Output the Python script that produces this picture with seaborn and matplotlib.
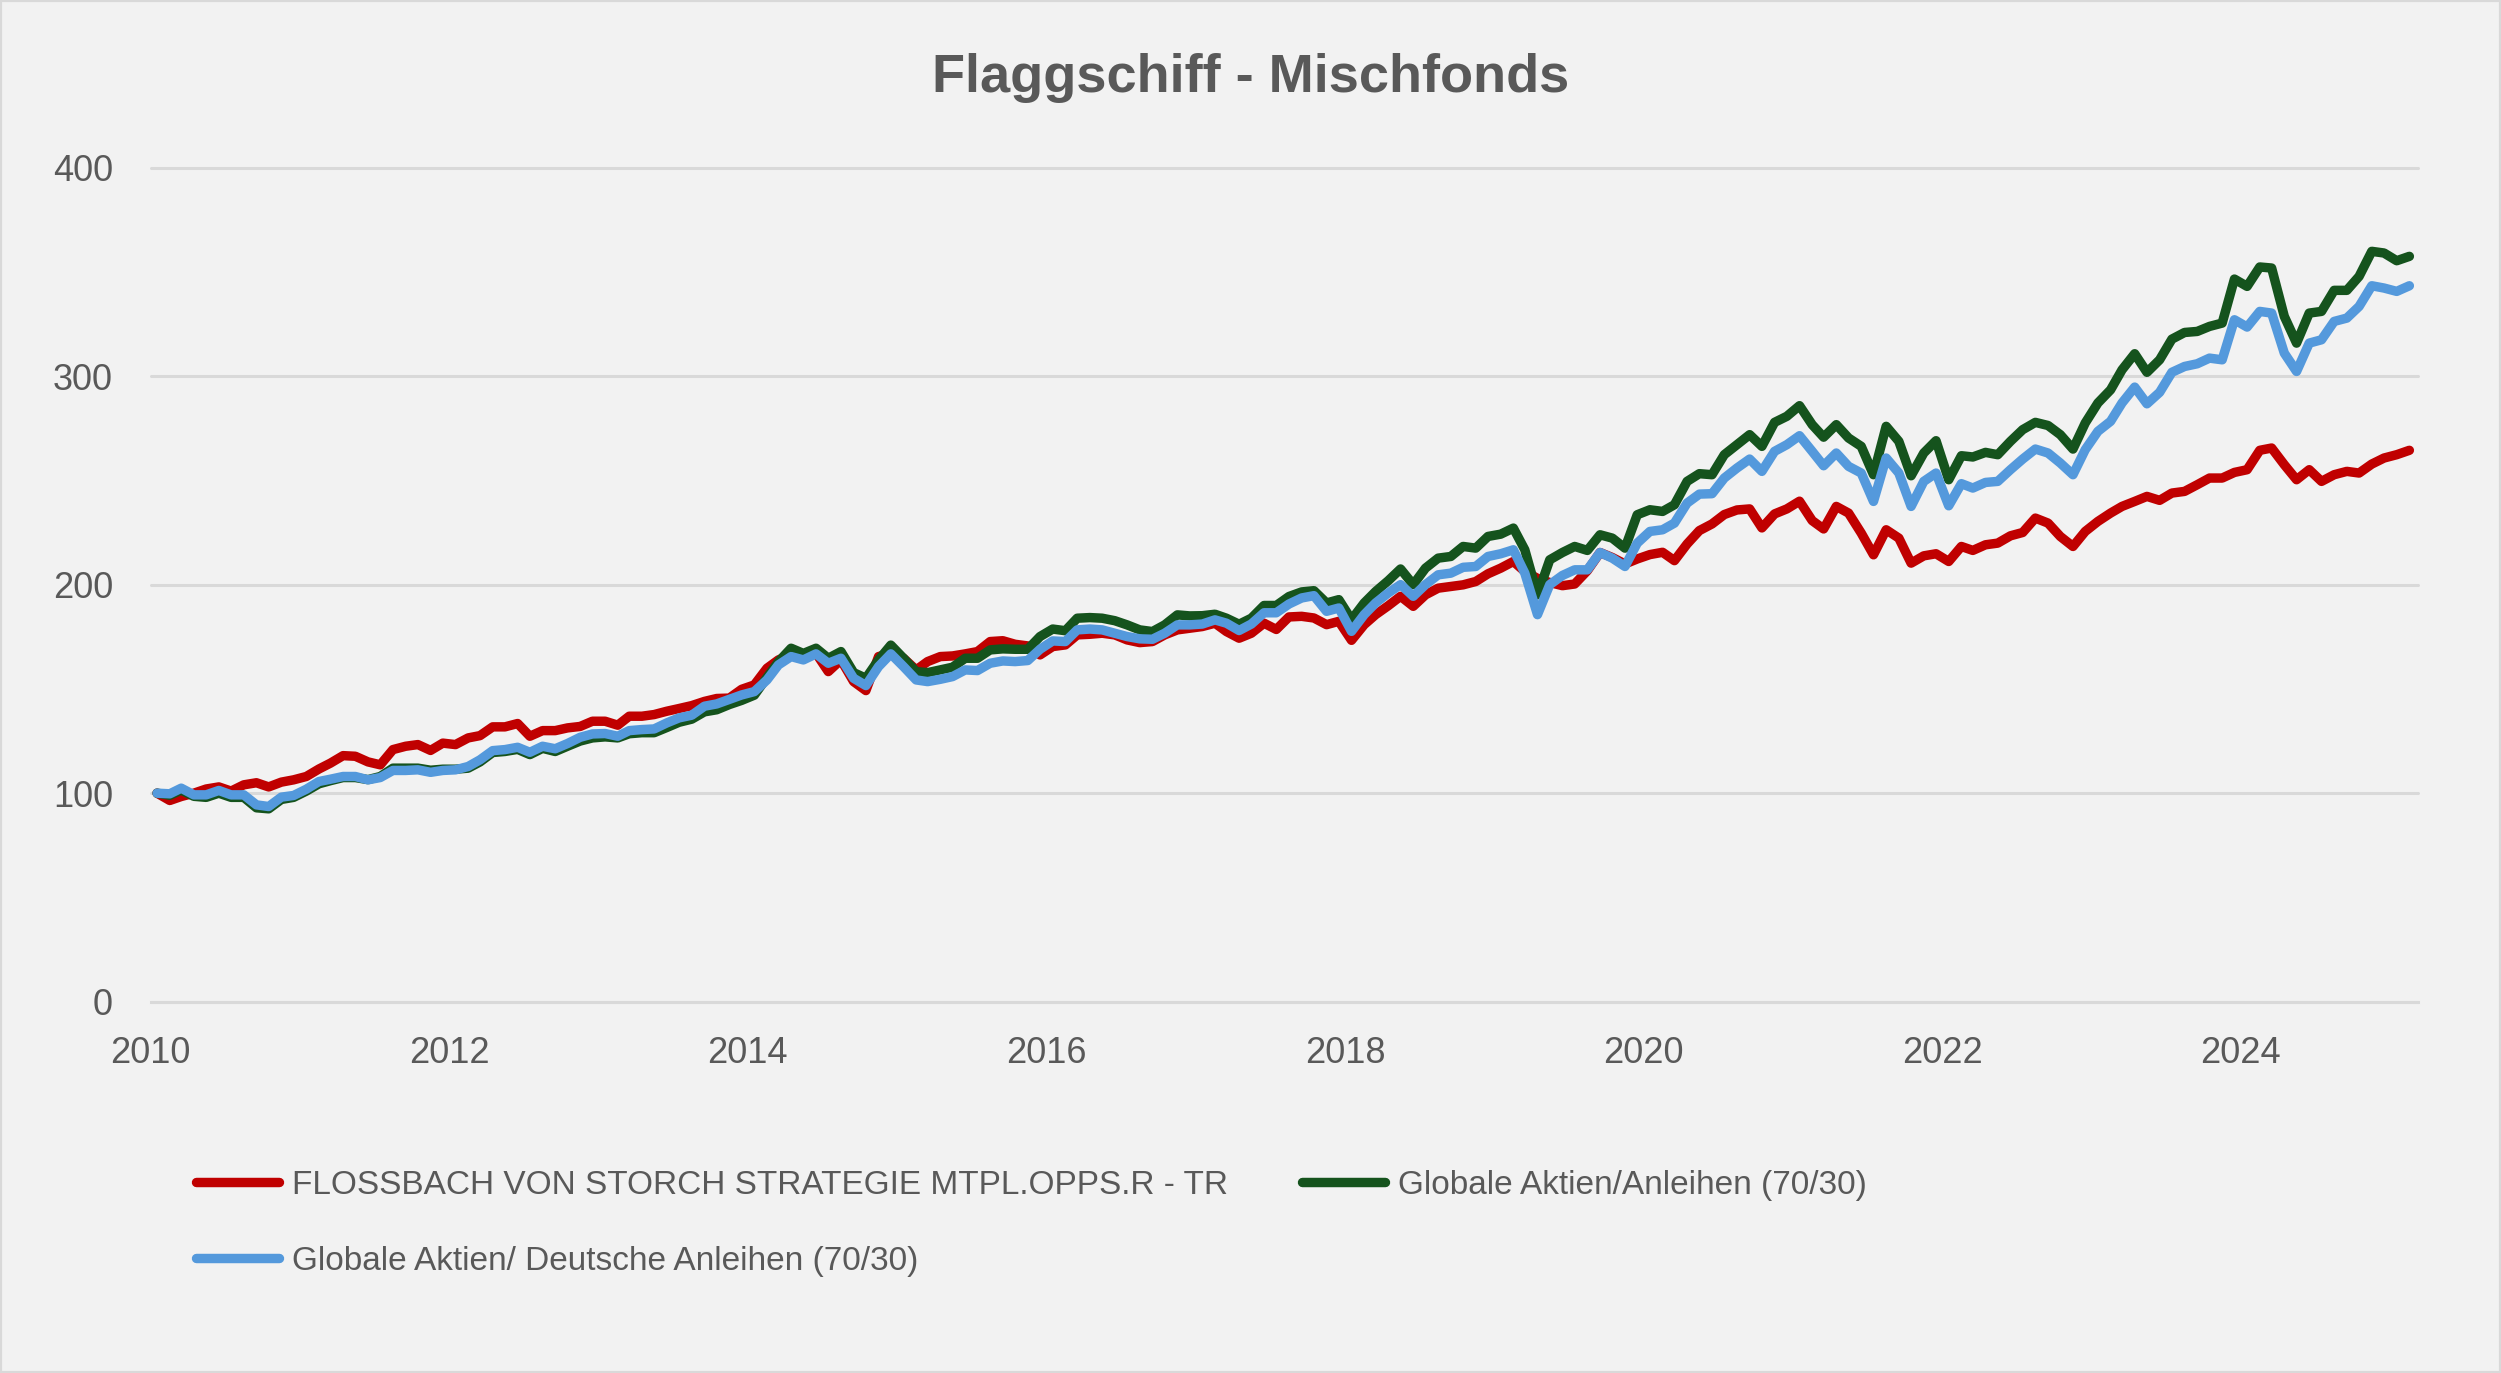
import numpy as np
import pandas as pd
import matplotlib
matplotlib.use("Agg")
import matplotlib.pyplot as plt
import matplotlib.dates as mdates
import seaborn as sns
from matplotlib.lines import Line2D
from matplotlib.patches import Rectangle

sns.set_style("white")
plt.rcParams["font.family"] = ["Liberation Sans", "DejaVu Sans"]

titel = "Flaggschiff - Mischfonds"
serien = [
    "FLOSSBACH VON STORCH STRATEGIE MTPL.OPPS.R - TR",
    "Globale Aktien/Anleihen (70/30)",
    "Globale Aktien/ Deutsche Anleihen (70/30)",
]

fvs = [
    100, 96.5, 98.4, 100, 102, 103, 101, 104, 105, 103, 105.3, 106.4,
    108, 111.6, 114.4, 118, 117.7, 115, 113.6, 120.9, 122.5, 123.3, 120.5, 124,
    123.3, 126.5, 127.6, 131.8, 131.8, 133.4, 127.3, 130, 130, 131.3, 132, 134.5,
    134.5, 132.6, 136.9, 136.9, 137.7, 139.3, 140.6, 142, 144, 145.4, 145.6, 149.8,
    151.9, 159.9, 163.9, 166.3, 164.7, 167.1, 158.3, 163.9, 153.5, 149.2, 165.5, 167.1,
    164.7, 159.1, 163.1, 165.5, 165.8, 166.8, 167.9, 172.7, 173.1, 171.4, 170.6, 166.3,
    170.3, 171.1, 175.9, 176.2, 176.7, 175.9, 173.5, 172.2, 172.7, 175.9, 178.3, 179.1,
    179.9, 181.5, 177.5, 174.3, 176.7, 181.5, 178.5, 184.5, 184.8, 184, 180.8, 182.4,
    173.3, 180.8, 185.6, 189.9, 194.4, 189.6, 195.1, 198.3, 199.1, 199.9, 201.5, 205.2,
    207.9, 211.1, 206.3, 203, 201, 199.5, 200.3, 206.7, 215.4, 213, 209.9, 212.3,
    214.4, 215.5, 211.5, 219.5, 225.9, 229.1, 233.6, 235.8, 236.3, 227.2, 233.9, 236.3,
    240, 230.7, 226.7, 237.5, 234.3, 224.7, 214.3, 226.3, 222.3, 210.3, 213.8, 214.8,
    211.1, 218.3, 216.4, 219.1, 219.9, 223.4, 225, 231.9, 229.5, 223.1, 218.3, 225.5,
    230.3, 234.3, 237.5, 239.9, 242.3, 240.4, 243.9, 244.7, 247.9, 251.1, 251.1, 253.8,
    255.1, 264.4, 265.5, 257.5, 250.3, 255.1, 249.5, 252.7, 254.3, 253.5, 257.8, 260.7,
    262.3, 264.4,
]

aktien_anleihen = [
    100, 99, 101.5, 98.5, 98, 100, 98, 98, 93, 92.5, 97, 98,
    101, 104.5, 106, 107.5, 107.5, 106.5, 108, 112, 112, 112, 111, 111.5,
    111.5, 112, 115, 119.5, 120, 121, 118.5, 121.5, 120, 122.5, 125, 126.5,
    127, 126.5, 128.5, 129, 129, 131.5, 134, 135.5, 139, 140, 142.5, 144.5,
    147, 155.5, 163, 169.5, 167, 169.5, 164.7, 167.9, 157.8, 155.1, 163.9, 171,
    164.7, 158.3, 157.8, 159.1, 160.4, 164.7, 164.7, 168.7, 169.2, 169, 169, 175.1,
    178.7, 177.9, 183.9, 184.2, 183.9, 182.7, 180.7, 178.3, 177.5, 180.7, 185.5, 185,
    185.1, 185.8, 183.9, 181, 183.9, 190, 190, 194.3, 196.5, 197.1, 191.2, 192.8,
    183.2, 191.2, 196.7, 201.9, 207.5, 200, 207.9, 212.7, 213.5, 218.3, 217.5, 223.1,
    224.2, 227.1, 216.7, 195.1, 211.9, 215.4, 218.3, 216.4, 223.9, 222.3, 217.5, 233.5,
    235.9, 235.1, 238.3, 249.5, 253.2, 252.7, 262.3, 267.1, 271.9, 266.3, 277.8, 280.7,
    285.8, 276.7, 270.7, 276.7, 270.3, 266.3, 252.7, 275.9, 268.7, 252.2, 263.1, 269,
    250.3, 261.8, 261.2, 263.4, 262.3, 268.7, 274.3, 277.8, 276.3, 271.9, 265, 277.5,
    287.1, 293.4, 303, 310.7, 301.8, 307.8, 317.7, 320.9, 321.4, 323.8, 325.4, 346.5,
    343, 352.3, 351.8, 328.6, 315.8, 330.2, 331, 341.1, 341.1, 347.8, 359.8, 359,
    355.3, 357.4,
]

aktien_de_anleihen = [
    100, 99.7, 102.4, 99.2, 99.2, 101.3, 99.2, 99.2, 94.4, 93.6, 98.1, 98.9,
    101.9, 105.6, 106.7, 108, 108, 106.4, 107.5, 110.9, 110.9, 111.2, 110, 110.9,
    111.2, 112.8, 116, 120.4, 120.9, 122, 119.6, 122.5, 121.3, 123.8, 126.8, 128.4,
    128.6, 127.3, 130, 130.5, 130.8, 133.7, 136.1, 137.4, 141.7, 142.8, 145, 147.1,
    148.7, 154.3, 161.5, 165.5, 163.9, 166.8, 162.3, 164.7, 155.1, 151.6, 160.7, 166.8,
    160.7, 154.3, 153.5, 154.6, 155.9, 159.1, 158.8, 162.3, 163.4, 163.1, 163.6, 169,
    173, 172.7, 178.3, 178.7, 178.3, 176.7, 175.1, 174, 173.8, 176.7, 180.7, 180.7,
    181.1, 183.1, 181.5, 178, 181.1, 186.5, 186.5, 190.7, 193.6, 194.7, 187.2, 188.8,
    177.6, 185.6, 191.2, 196, 200, 194.4, 200, 204.7, 205.5, 208.3, 208.7, 213.5,
    214.8, 216.7, 205.5, 185.6, 200, 204.4, 207.1, 207.1, 215.4, 212.7, 208.7, 219.9,
    225.5, 226.3, 229.5, 239.1, 243.4, 243.6, 251.1, 255.9, 260.2, 254.3, 263.9, 267.1,
    271.4, 263.9, 257, 263.1, 256.7, 253.5, 239.9, 260.7, 253.5, 237.5, 249.5, 253.5,
    237.8, 248.4, 246.3, 249, 249.5, 255.1, 260.2, 265, 263.1, 258.3, 252.7, 264.7,
    273.5, 278.3, 287.1, 294.7, 286.7, 292.2, 301.8, 304.6, 305.9, 308.6, 307.8, 327,
    323.5, 331, 330.2, 311, 302.2, 315.8, 317.4, 326.2, 327.8, 333.4, 343.3, 342.2,
    340.6, 343.3,
]

y_ticks = [0, 100, 200, 300, 400]

farben = {
    serien[0]: "#C00000",
    serien[1]: "#15531D",
    serien[2]: "#5499DC",
}
grau_text = "#595959"
grau_linie = "#D9D9D9"
hintergrund = "#F2F2F2"
lw = 6.8

datum = pd.date_range("2010-01-01", periods=len(fvs), freq="MS") + pd.Timedelta(days=16)
df = pd.DataFrame({
    "Datum": np.tile(datum, 3),
    "Wert": fvs + aktien_anleihen + aktien_de_anleihen,
    "Serie": np.repeat(serien, len(fvs)),
})

fig = plt.figure(figsize=(25.01, 13.73), dpi=100)
fig.patch.set_facecolor(hintergrund)
ax = fig.add_axes([0.0602, 0.2704, 0.9066, 0.6076])
ax.set_facecolor(hintergrund)

sns.lineplot(data=df, x="Datum", y="Wert", hue="Serie", hue_order=serien,
             palette=farben, linewidth=lw, estimator=None, legend=False, ax=ax)
for line in ax.lines:
    line.set_solid_joinstyle("round")
    line.set_solid_capstyle("round")

ax.set_xlabel("")
ax.set_ylabel("")
ax.set_ylim(0, 400)
ax.set_yticks(y_ticks)
ax.set_xlim(pd.Timestamp("2010-01-01"), pd.Timestamp("2025-03-10"))
ax.xaxis.set_major_locator(mdates.YearLocator(2))
ax.xaxis.set_major_formatter(mdates.DateFormatter("%Y"))

ax.grid(axis="y", color=grau_linie, linewidth=2.2)
ax.grid(axis="x", visible=False)
ax.set_axisbelow(True)
for gl in ax.get_ygridlines():
    gl.set_clip_on(False)
for s in ["left", "right", "top"]:
    ax.spines[s].set_visible(False)
ax.spines["bottom"].set_color(grau_linie)
ax.spines["bottom"].set_linewidth(2.2)
ax.tick_params(axis="x", length=9, width=2.2, color=grau_linie, labelcolor=grau_text,
               labelsize=26, pad=16, direction="out")
ax.tick_params(axis="y", length=0, labelcolor=grau_text, labelsize=26, pad=27)

fig.text(0.5, 1 - 78 / 1373, titel, ha="center", va="center", fontsize=39,
         fontweight="bold", color=grau_text)

# Legende: Reihenfolge so, dass Zeile 1 = rot, grün und Zeile 2 = blau
reihenfolge = [serien[0], serien[2], serien[1]]
handles = [Line2D([], [], color=farben[s], linewidth=lw, solid_capstyle="round")
           for s in reihenfolge]
fig.legend(handles, reihenfolge, loc="upper left", bbox_to_anchor=(0.0782, 0.148),
           ncol=2, frameon=False, fontsize=24, labelcolor=grau_text,
           handlelength=2.5, handletextpad=0.4, columnspacing=2.2,
           labelspacing=1.35, borderpad=0, borderaxespad=0)

fig.add_artist(Rectangle((0, 0), 1, 1, transform=fig.transFigure, fill=False,
                         edgecolor=grau_linie, linewidth=3))

plt.savefig("out.png", dpi=100, facecolor=hintergrund)
plt.close()
